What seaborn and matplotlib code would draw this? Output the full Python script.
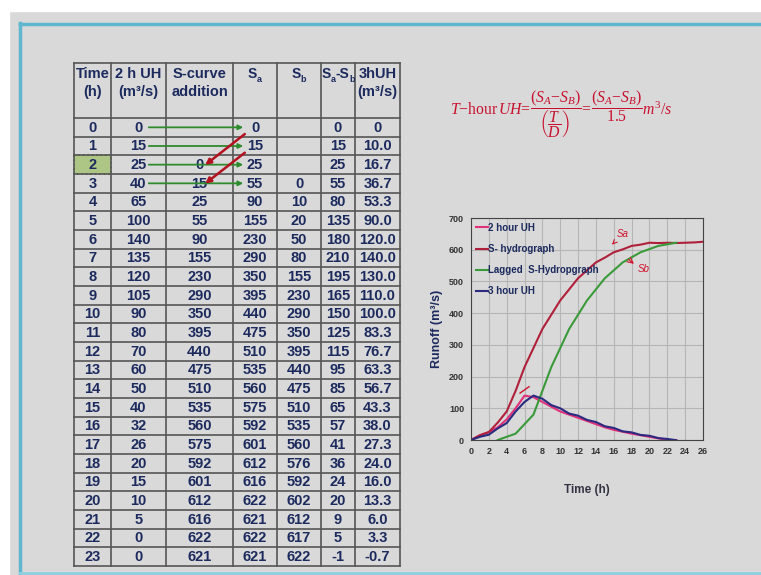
import pandas as pd
import matplotlib.pyplot as plt
import seaborn as sns
from matplotlib.patches import Rectangle

plt.rcParams['font.family'] = ['Liberation Sans Narrow', 'Liberation Sans', 'DejaVu Sans']
plt.rcParams['mathtext.fontset'] = 'custom'
plt.rcParams['mathtext.rm'] = 'Liberation Serif'
plt.rcParams['mathtext.it'] = 'Liberation Serif:italic'

# Datos de la tabla (tiempo en horas, caudales en m3/s)
time_h = list(range(24))
uh2 = [0, 15, 25, 40, 65, 100, 140, 135, 120, 105, 90, 80, 70, 60, 50, 40, 32, 26, 20, 15, 10, 5, 0, 0]
scurve_add = [None, None, 0, 15, 25, 55, 90, 155, 230, 290, 350, 395, 440, 475, 510, 535, 560, 575, 592, 601, 612, 616, 622, 621]
sa = [0, 15, 25, 55, 90, 155, 230, 290, 350, 395, 440, 475, 510, 535, 560, 575, 592, 601, 612, 616, 622, 621, 622, 621]
sb = [None, None, None, 0, 10, 20, 50, 80, 155, 230, 290, 350, 395, 440, 475, 510, 535, 560, 576, 592, 602, 612, 617, 622]
sa_sb = [0, 15, 25, 55, 80, 135, 180, 210, 195, 165, 150, 125, 115, 95, 85, 65, 57, 41, 36, 24, 20, 9, 5, -1]
uh3 = ["0", "10.0", "16.7", "36.7", "53.3", "90.0", "120.0", "140.0", "130.0", "110.0", "100.0", "83.3",
       "76.7", "63.3", "56.7", "43.3", "38.0", "27.3", "24.0", "16.0", "13.3", "6.0", "3.3", "-0.7"]
# encabezados: lista de trozos (texto, es_subindice)
headers = [[("Time\n(h)", False)], [("2 h UH\n(m³/s)", False)], [("S-curve\naddition", False)],
           [("S", False), ("a", True)], [("S", False), ("b", True)],
           [("S", False), ("a", True), ("-S", False), ("b", True)], [("3hUH\n(m³/s)", False)]]

# Curva S extendida en el grafico hasta 26 h
s_time_ext = [24, 25, 26]
sa_ext = [622, 623, 625]

navy = '#1c2a5e'
fig = plt.figure(figsize=(7.61, 5.75), dpi=100)
fig.patch.set_facecolor('#d9d9d9')
renderer = fig.canvas.get_renderer()

# Capa de fondo en pixeles
bg = fig.add_axes([0, 0, 1, 1])
bg.set_xlim(0, 761)
bg.set_ylim(575, 0)
bg.axis('off')
bg.add_patch(Rectangle((0, 0), 761, 11, color='white', zorder=0))
bg.add_patch(Rectangle((0, 0), 9, 575, color='white', zorder=0))
bg.plot([19.5, 19.5], [23, 575], color='#5fb6cf', lw=2.5)
bg.plot([19.5, 761], [23.5, 23.5], color='#5fb6cf', lw=2.5)
bg.plot([19.5, 761], [573, 573], color='#8fd0e0', lw=2)

# Tabla
col_x = [74, 111, 166, 233, 277, 321, 355, 400]
top, head_bot, bottom = 63, 118, 566
row_h = (bottom - head_bot) / len(time_h)

bg.add_patch(Rectangle((col_x[0], head_bot + 2 * row_h), col_x[1] - col_x[0], row_h,
                       facecolor='#adc585', edgecolor='#4d7a2a', ls=':', lw=1.2, zorder=1))
for x in col_x:
    bg.plot([x, x], [top, bottom], color='#555555', lw=1.2, zorder=2)
bg.plot([col_x[0], col_x[-1]], [top, top], color='#555555', lw=1.2, zorder=2)
for i in range(len(time_h) + 1):
    y = head_bot + i * row_h
    bg.plot([col_x[0], col_x[-1]], [y, y], color='#555555', lw=1.2, zorder=2)

for j, pieces in enumerate(headers):
    cx = (col_x[j] + col_x[j + 1]) / 2
    if len(pieces) == 1:
        bg.text(cx, top + 4, pieces[0][0], ha='center', va='top', fontsize=10.5, fontweight='bold',
                color=navy, linespacing=1.35)
        continue
    # trozos con subindices, colocados uno tras otro y luego centrados
    objs, x = [], 0.0
    for txt, sub in pieces:
        t = bg.text(x, top + 4 + (8 if sub else 0), txt, ha='left', va='top',
                    fontsize=6.5 if sub else 10, fontweight='bold', color=navy)
        bb = t.get_window_extent(renderer)
        w = bg.transData.inverted().transform([[bb.x1, 0]])[0][0] - bg.transData.inverted().transform([[bb.x0, 0]])[0][0]
        objs.append((t, x))
        x += w
    shift = cx - x / 2
    for t, x0 in objs:
        t.set_x(x0 + shift)

columns = [time_h, uh2, scurve_add, sa, sb, sa_sb, uh3]
for i in range(len(time_h)):
    cy = head_bot + (i + 0.5) * row_h
    for j, col in enumerate(columns):
        v = col[i]
        if v is None:
            continue
        cx = (col_x[j] + col_x[j + 1]) / 2
        bg.text(cx, cy + 0.5, str(v), ha='center', va='center', fontsize=10.5,
                fontweight='bold', color=navy, zorder=3)

# Flechas de la tabla
for i in range(4):
    cy = head_bot + (i + 0.5) * row_h
    bg.annotate('', xy=(246, cy), xytext=(146, cy),
                arrowprops=dict(arrowstyle='-|>', color='#2e8b2e', lw=1.3, mutation_scale=7), zorder=4)
for i in range(2):
    y0 = head_bot + (i + 0.5) * row_h + 5
    bg.annotate('', xy=(203, y0 + 2 * row_h - 3), xytext=(247, y0),
                arrowprops=dict(arrowstyle='-|>', color='#b3121f', lw=1.8, mutation_scale=8), zorder=5)

# Formula
fig.text(450 / 761, 1 - 114 / 575,
         r'$T\mathrm{-hour}\,UH\!=\!\dfrac{(S_A\mathrm{-}S_B)}{\left(\dfrac{T}{D}\right)}\!=\!\dfrac{(S_A\mathrm{-}S_B)}{1.5}m^3/s$',
         ha='left', va='center', fontsize=11.3, color='#c8102e')

# Grafico
ax = fig.add_axes([471 / 761, 1 - 440 / 575, 232 / 761, 222 / 575])
ax.set_facecolor('#d9d9d9')
sns.lineplot(x=time_h, y=uh2, ax=ax, color='#e0307a', lw=1.5, label='2 hour UH')
sns.lineplot(x=time_h + s_time_ext, y=sa + sa_ext, ax=ax, color='#b0203a', lw=1.5, label='S- hydrograph')
sns.lineplot(x=time_h[3:], y=sb[3:], ax=ax, color='#3a9a3a', lw=1.5, label='Lagged  S-Hydropgraph')
sns.lineplot(x=time_h, y=[float(v) for v in uh3], ax=ax, color='#2a2a80', lw=1.5, label='3 hour UH')

ax.set_xlim(0, 26)
ax.set_ylim(0, 700)
ax.set_xticks(range(0, 27, 2))
ax.set_yticks(range(0, 701, 100))
ax.grid(True, color='#b5b5b5', lw=0.8)
ax.set_axisbelow(True)
for s in ax.spines.values():
    s.set_color('#444444')
    s.set_linewidth(0.8)
ax.tick_params(length=0, labelsize=6.5, labelcolor='#333333', pad=5)
for lab in ax.get_xticklabels() + ax.get_yticklabels():
    lab.set_fontweight('bold')
ax.set_xlabel('Time (h)', fontsize=8.5, fontweight='bold', color='#333344', labelpad=20)
ax.set_ylabel('Runoff (m³/s)', fontsize=9, fontweight='bold', color=navy, labelpad=4)
leg = ax.legend(loc='upper left', frameon=False, fontsize=7, handlelength=1.2,
                handletextpad=0.1, borderaxespad=0.1, labelspacing=1.15)
for t in leg.get_texts():
    t.set_color(navy)
    t.set_fontweight('bold')

# Anotaciones a mano
ax.annotate('Sa', xy=(15.6, 610), xytext=(16.3, 640), color='#d0102a', fontsize=7, style='italic',
            arrowprops=dict(arrowstyle='->', color='#d0102a', lw=0.8))
ax.annotate('Sb', xy=(18.6, 545), xytext=(18.7, 530), color='#d0102a', fontsize=7, style='italic')
ax.annotate('', xy=(18.5, 550), xytext=(17.4, 575),
            arrowprops=dict(arrowstyle='->', color='#d0102a', lw=0.8))
ax.plot([5.5, 6.5], [148, 168], color='#d0102a', lw=1)

plt.savefig('out.png', dpi=100, facecolor=fig.get_facecolor())
